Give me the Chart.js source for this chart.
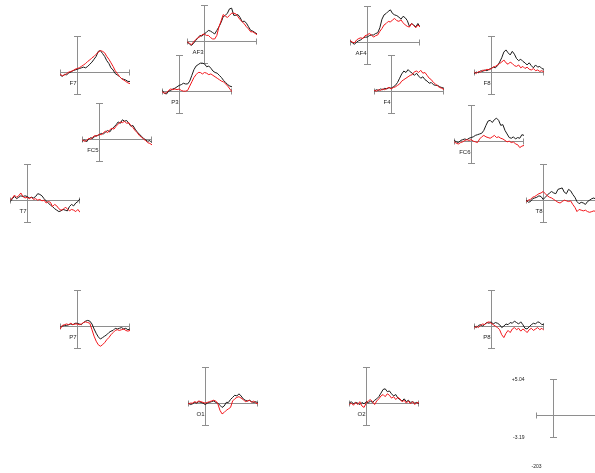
<!DOCTYPE html>
<html>
<head>
<meta charset="utf-8">
<script src="https://cdn.jsdelivr.net/npm/chart.js@4.4.1/dist/chart.umd.min.js"></script>
<style>
html, body { margin: 0; padding: 0; background: #fff; width: 595px; height: 473px; overflow: hidden; position: relative; }
canvas { position: absolute; }
</style>
</head>
<body>
<script>
// time axis (ms) and amplitude range (uV)
const TMIN = -203, TMAX = 625;
const YMIN = -3.19, YMAX = 5.04;
const times = [-200,-175,-150,-125,-100,-75,-50,-25,0,25,50,75,100,125,150,175,200,225,250,275,300,325,350,375,400,425,450,475,500,525,550,575,600,625];

const channels = ['F7','AF3','AF4','P3','F4','F8','FC5','FC6','T7','T8','P7','P8','O1','O2'];

// black = condition 1, red = condition 2
const F7_black  = [-0.4,-0.6,-0.3,-0.4,-0.1,0.0,0.2,0.3,0.4,0.5,0.6,0.7,0.6,0.8,1.1,1.4,1.8,2.2,2.9,3.0,2.6,2.2,1.6,1.2,0.6,0.3,-0.2,-0.4,-0.6,-0.9,-1.0,-1.1,-1.3,-1.3];
const F7_red    = [-0.3,-0.5,-0.4,-0.2,0.0,0.1,0.2,0.4,0.5,0.6,0.8,1.0,1.2,1.5,1.7,2.0,2.2,2.5,2.8,3.0,2.9,2.7,2.2,1.8,1.3,0.8,0.2,-0.2,-0.6,-0.9,-1.1,-1.3,-1.5,-1.6];
const AF3_black = [-0.1,-0.4,-0.6,-0.3,0.1,0.4,0.8,0.7,1.0,1.2,1.5,1.4,1.2,1.0,1.5,2.0,2.6,3.4,3.6,3.9,4.5,4.6,3.6,3.6,3.7,3.3,2.7,2.8,2.5,2.0,1.5,1.4,1.2,1.0];
const AF3_red   = [-0.1,-0.3,-0.5,-0.1,0.2,0.5,0.6,0.9,1.0,0.8,0.8,0.5,0.3,0.3,0.8,2.0,2.8,3.7,3.5,3.3,3.6,3.9,3.9,3.8,3.4,3.0,2.7,2.4,2.0,1.7,1.3,1.3,1.1,0.9];
const AF4_black = [0.2,-0.1,-0.3,0.0,0.2,0.3,0.6,0.7,0.7,0.9,1.0,1.0,1.2,1.3,2.0,3.2,3.8,4.0,4.3,4.5,4.0,3.8,3.7,3.5,3.2,3.6,3.4,3.0,2.2,2.6,2.4,2.1,2.6,2.1];
const AF4_red   = [0.2,0.0,-0.1,0.3,0.5,0.6,0.5,0.9,1.0,1.2,1.0,0.7,0.9,1.0,1.5,1.9,2.4,2.6,2.9,2.8,3.1,3.3,3.0,2.9,3.1,2.7,2.4,2.2,2.1,2.6,2.3,2.0,2.4,2.1];
const P3_black  = [0.1,-0.3,-0.4,0.0,0.1,0.3,0.4,0.6,0.8,0.9,1.1,1.0,1.0,1.4,2.2,3.0,3.5,3.7,3.9,3.9,3.8,3.4,3.5,3.2,2.8,2.6,2.5,2.2,1.9,1.5,1.2,0.9,0.7,0.6];
const P3_red    = [-0.1,-0.3,-0.2,0.1,0.3,0.2,0.3,0.2,0.3,0.1,0.0,0.0,0.1,0.7,1.3,1.9,2.3,2.6,2.6,2.4,2.6,2.5,2.3,2.4,2.2,2.0,1.8,1.6,1.4,1.3,1.0,0.7,0.3,-0.1];
const F4_black  = [0.0,0.2,0.1,0.3,0.2,0.4,0.3,0.5,0.4,0.6,0.8,1.2,1.8,2.4,2.8,2.6,3.0,2.7,2.5,2.2,2.5,2.1,1.8,2.0,1.6,1.4,1.1,1.2,0.9,0.8,0.8,0.6,0.5,0.4];
const F4_red    = [0.1,0.0,0.2,0.1,0.3,0.2,0.4,0.5,0.3,0.5,0.6,0.8,1.0,1.4,1.6,1.8,2.0,2.2,2.3,2.7,2.8,2.6,2.9,2.5,2.6,2.2,1.8,1.6,1.2,1.0,0.7,0.5,0.4,0.2];
const F8_black  = [-0.2,0.0,-0.1,0.2,0.1,0.3,0.2,0.4,0.5,0.7,0.6,0.9,1.4,2.0,2.8,3.1,2.7,2.4,2.9,2.5,1.9,1.6,1.8,1.5,1.3,1.0,1.3,0.9,0.6,1.0,0.7,0.8,0.5,0.4];
const F8_red    = [0.0,-0.2,0.1,0.0,0.3,0.2,0.4,0.3,0.5,0.7,0.8,1.0,1.2,1.4,1.7,1.3,1.1,1.4,1.2,0.9,0.8,1.0,0.6,0.8,0.5,0.7,0.4,0.3,0.5,0.2,0.3,0.1,0.2,0.0];
const FC5_black = [-0.3,-0.1,-0.4,0.0,0.2,0.1,0.4,0.5,0.6,0.8,0.7,1.0,1.2,1.0,1.4,1.7,2.0,2.4,2.2,2.7,2.5,2.6,2.2,1.8,1.9,1.4,1.0,0.7,0.4,0.1,-0.1,-0.3,-0.2,-0.5];
const FC5_red   = [-0.1,-0.3,-0.2,0.1,0.0,0.3,0.5,0.4,0.7,0.6,0.9,1.1,0.9,1.3,1.5,1.4,1.8,2.1,2.4,2.3,2.5,2.2,2.3,1.9,1.6,1.2,0.9,0.5,0.3,0.0,-0.2,-0.5,-0.6,-0.8];
const FC6_black = [0.1,-0.1,-0.2,0.1,0.2,0.3,0.2,0.4,0.5,0.6,0.8,0.9,1.0,1.1,1.5,2.2,2.8,2.9,2.6,3.0,3.2,2.9,2.2,2.3,1.5,1.0,0.5,0.4,0.6,0.3,0.5,0.4,0.9,0.8];
const FC6_red   = [-0.1,-0.3,-0.4,-0.2,-0.1,0.1,0.2,0.1,0.2,0.0,-0.1,-0.2,0.3,0.6,0.8,0.6,0.5,0.4,0.6,0.8,0.5,0.6,0.4,0.3,0.1,-0.1,0.0,-0.2,-0.1,-0.4,-0.5,-0.9,-0.7,-0.6];
const T7_black  = [-0.2,0.2,0.5,0.2,0.4,0.6,0.5,0.6,0.5,0.3,0.4,0.3,0.5,0.9,0.8,0.6,0.2,-0.1,-0.4,-0.7,-0.9,-1.2,-1.4,-1.6,-1.5,-1.3,-1.4,-1.5,-0.9,-0.6,-0.8,-0.4,-0.2,0.2];
const T7_red    = [0.0,0.3,0.7,0.4,0.6,1.0,0.5,0.3,0.4,0.2,0.4,0.1,0.2,0.0,0.1,-0.1,0.0,-0.4,-0.2,-0.3,-0.9,-0.6,-0.8,-1.2,-1.4,-1.3,-1.0,-1.2,-1.5,-1.3,-1.4,-1.6,-1.3,-1.7];
const T8_black  = [0.0,-0.3,-0.2,0.2,0.3,0.4,0.6,0.5,0.1,0.4,0.7,1.0,1.2,1.0,0.9,1.5,1.6,1.7,1.1,0.9,1.5,1.3,0.8,0.4,-0.2,-0.5,-0.3,-0.4,-0.6,-0.2,0.0,0.2,0.3,0.1];
const T8_red    = [-0.2,0.0,0.1,0.4,0.5,0.7,0.9,1.0,1.2,0.9,0.6,0.4,0.3,0.1,-0.1,-0.3,-0.4,-0.2,0.0,-0.1,-0.2,-0.1,-0.6,-1.0,-1.6,-1.3,-1.4,-1.5,-1.4,-1.6,-1.7,-1.6,-1.5,-1.6];
const P7_black  = [-0.1,0.0,0.1,0.1,0.2,0.3,0.2,0.4,0.4,0.3,0.2,0.5,0.7,0.8,0.7,0.3,-0.4,-1.0,-1.5,-1.8,-1.6,-1.4,-1.2,-0.9,-0.7,-0.6,-0.3,-0.4,-0.3,-0.2,-0.4,-0.3,-0.5,-0.4];
const P7_red    = [-0.4,0.1,0.2,0.3,0.2,0.4,0.2,0.3,0.3,0.2,0.3,0.5,0.6,0.5,0.4,-0.5,-1.4,-2.1,-2.6,-2.8,-2.6,-2.3,-1.9,-1.6,-1.2,-0.9,-0.6,-0.5,-0.6,-0.5,-0.4,-0.6,-0.7,-0.6];
const P8_black  = [0.0,-0.2,0.1,0.2,0.0,0.3,0.5,0.4,0.6,0.3,0.5,0.4,0.2,-0.2,0.0,0.3,0.2,0.5,0.4,0.7,0.5,0.3,0.6,0.2,-0.3,-0.4,-0.1,0.2,0.4,0.3,0.6,0.5,0.2,0.3];
const P8_red    = [-0.3,0.0,-0.2,0.1,0.3,0.2,0.5,0.6,0.4,0.2,0.0,-0.2,-0.5,-1.2,-1.6,-1.0,-0.6,-0.9,-0.4,-0.2,-0.5,-0.3,-0.7,-0.4,-0.6,-0.9,-0.5,-0.3,-0.6,-0.4,-0.2,-0.5,-0.3,-0.6];
const O1_black  = [0.0,-0.2,-0.1,0.1,0.0,0.2,0.1,0.0,-0.2,0.0,0.1,0.2,0.3,0.1,0.0,-0.3,-0.6,-0.4,0.1,0.1,0.5,0.8,1.1,1.0,1.3,1.0,0.6,0.4,0.3,0.4,0.2,0.1,0.2,0.0];
const O1_red    = [-0.1,0.0,0.0,0.2,0.1,0.3,0.2,0.1,0.0,0.1,0.2,0.3,0.4,0.3,-0.1,-1.0,-1.5,-1.3,-1.0,-0.8,-0.6,0.3,0.6,0.8,0.9,0.7,0.5,0.2,0.3,0.4,0.1,0.3,0.0,-0.1];
const O2_black  = [0.0,0.2,-0.1,0.1,0.0,-0.2,0.1,-0.1,0.2,0.0,0.3,0.1,0.4,0.6,0.9,1.4,1.9,2.0,1.6,1.7,1.3,1.0,1.2,0.7,0.5,0.3,0.6,0.2,0.4,0.1,0.2,0.0,0.1,-0.1];
const O2_red    = [-0.2,0.0,-0.3,0.1,-0.2,0.2,-0.4,-0.6,0.0,0.3,0.5,0.2,-0.2,0.3,0.6,1.0,1.2,0.9,1.3,1.1,0.7,0.9,0.5,0.8,0.6,0.2,0.4,0.0,0.3,-0.1,0.2,-0.2,0.1,0.0];

const series = {
  F7: [F7_black, F7_red], AF3: [AF3_black, AF3_red], AF4: [AF4_black, AF4_red],
  P3: [P3_black, P3_red], F4: [F4_black, F4_red], F8: [F8_black, F8_red],
  FC5: [FC5_black, FC5_red], FC6: [FC6_black, FC6_red], T7: [T7_black, T7_red],
  T8: [T8_black, T8_red], P7: [P7_black, P7_red], P8: [P8_black, P8_red],
  O1: [O1_black, O1_red], O2: [O2_black, O2_red]
};

// where each panel sits on the page: left = x of TMIN, zy = y of the zero line
const layout = {
  F7: {left: 60, zy: 72}, AF3: {left: 187, zy: 41}, AF4: {left: 350, zy: 42},
  P3: {left: 162, zy: 91}, F4: {left: 374, zy: 91}, F8: {left: 474, zy: 72},
  FC5: {left: 82, zy: 139}, FC6: {left: 454, zy: 141},
  T7: {left: 10, zy: 200}, T8: {left: 526, zy: 200},
  P7: {left: 60, zy: 326}, P8: {left: 474, zy: 326},
  O1: {left: 188, zy: 403}, O2: {left: 349, zy: 403}
};
const PW = 70, PH_UP = 36, PH_DOWN = 23;

const crossPlugin = {
  id: 'cross',
  beforeDatasetsDraw(chart, args, opts) {
    const {ctx, scales: {x, y}} = chart;
    const x0 = Math.round(x.getPixelForValue(0)) + 0.5;
    const y0 = Math.round(y.getPixelForValue(0)) + 0.5;
    const xl = Math.round(x.getPixelForValue(TMIN)) + 0.5;
    const xr = Math.round(x.getPixelForValue(TMAX)) - 0.5;
    const yt = Math.round(y.getPixelForValue(YMAX)) + 0.5;
    const yb = Math.round(y.getPixelForValue(YMIN)) - 0.5;
    ctx.save();
    ctx.strokeStyle = '#8e8e8e';
    ctx.lineWidth = 1;
    ctx.beginPath();
    ctx.moveTo(x0, yt); ctx.lineTo(x0, yb);
    ctx.moveTo(x0 - 3.5, yt); ctx.lineTo(x0 + 3.5, yt);
    ctx.moveTo(x0 - 3.5, yb); ctx.lineTo(x0 + 3.5, yb);
    ctx.moveTo(xl, y0); ctx.lineTo(xr, y0);
    ctx.moveTo(xl, y0 - 3); ctx.lineTo(xl, y0 + 3);
    ctx.moveTo(xr, y0 - 3); ctx.lineTo(xr, y0 + 3);
    ctx.stroke();
    ctx.fillStyle = '#222';
    if (opts.label) {
      ctx.font = '6px "Liberation Sans", Arial, sans-serif';
      ctx.textAlign = 'right';
      ctx.textBaseline = 'middle';
      ctx.fillText(opts.label, x0 - 1, y0 + 11);
    }
    if (opts.scaleLabels) {
      ctx.font = '5px "Liberation Sans", Arial, sans-serif';
      ctx.textBaseline = 'middle';
      ctx.textAlign = 'right';
      ctx.fillText('+' + YMAX.toFixed(2), xl - 12, yt);
      ctx.fillText(YMIN.toFixed(2), xl - 12, yb);
      ctx.textAlign = 'center';
      ctx.fillText(String(TMIN), xl, yb + 29);
    }
    ctx.restore();
  }
};

function makePanel(pad, pos, datasets, pluginOpts) {
  const c = document.createElement('canvas');
  c.width = pad.left + PW + pad.right;
  c.height = pad.top + PH_UP + PH_DOWN + pad.bottom;
  c.style.left = (pos.left - pad.left) + 'px';
  c.style.top = (pos.zy - PH_UP - pad.top) + 'px';
  document.body.appendChild(c);
  new Chart(c, {
    type: 'line',
    data: { datasets: datasets },
    options: {
      responsive: false,
      animation: false,
      devicePixelRatio: 1,
      layout: { padding: pad },
      plugins: { legend: { display: false }, tooltip: { enabled: false }, cross: pluginOpts },
      scales: {
        x: { type: 'linear', min: TMIN, max: TMAX, display: false },
        y: { min: YMIN, max: YMAX, display: false }
      },
      elements: { point: { radius: 0 }, line: { borderWidth: 1, tension: 0 } }
    },
    plugins: [crossPlugin]
  });
}

channels.forEach(name => {
  const [blk, red] = series[name];
  const toXY = arr => arr.map((v, i) => ({x: times[i], y: v}));
  makePanel({left: 6, right: 6, top: 5, bottom: 10}, layout[name], [
    { data: toXY(red), borderColor: '#f2161b' },
    { data: toXY(blk), borderColor: '#1a1a1a' }
  ], {label: name});
});

// scale / legend panel, bottom right
makePanel({left: 34, right: 6, top: 9, bottom: 35}, {left: 536, zy: 415}, [], {scaleLabels: true});
</script>
</body>
</html>
